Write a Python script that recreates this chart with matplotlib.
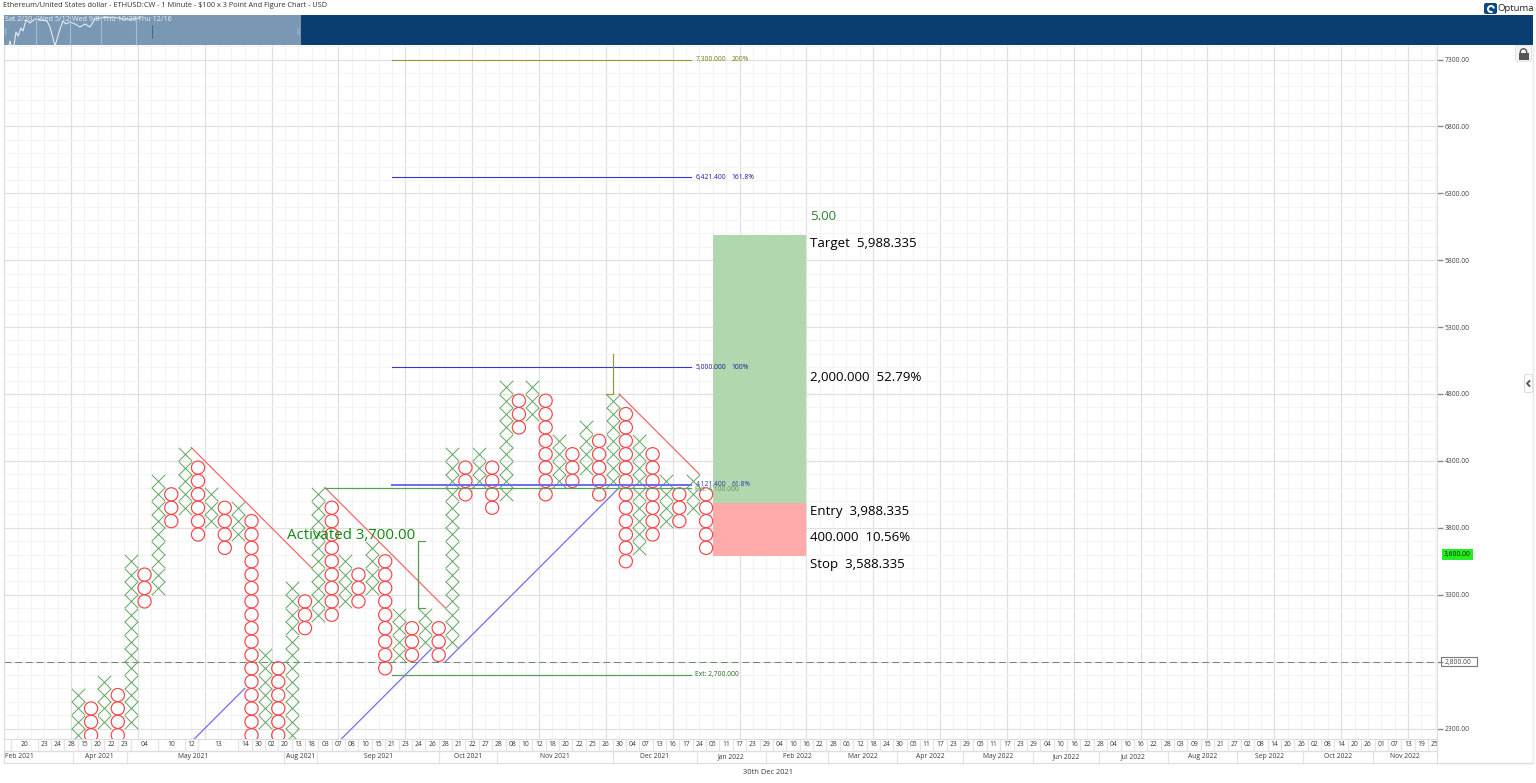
import matplotlib
matplotlib.use('Agg')
import matplotlib.pyplot as plt
from matplotlib.patches import Rectangle, FancyBboxPatch, Wedge, Circle

plt.rcParams['font.family'] = ['Open Sans', 'DejaVu Sans']

W, H = 1536, 783

# Point and figure columns, alternating X / O, first column is X. Edges of the box range.
col_low = [2200, 2200, 2300, 2200, 2300, 3200, 3300, 3800, 3900, 3700, 3800, 3600,
           3700, 2200, 2300, 2200, 2200, 3000, 3100, 3100, 3200, 3200, 3300, 2700,
           2800, 2800, 2900, 2800, 2900, 4000, 4100, 3900, 4000, 4500, 4600, 4000,
           4100, 4100, 4200, 4000, 4100, 3500, 3600, 3700, 3800, 3800, 3900, 3600]
col_high = [2600, 2500, 2700, 2600, 3600, 3500, 4200, 4100, 4400, 4300, 4100, 4000,
            4000, 3900, 2900, 2800, 3400, 3300, 4100, 4000, 3600, 3500, 3700, 3600,
            3200, 3100, 3200, 3100, 4400, 4300, 4400, 4300, 4900, 4800, 4900, 4800,
            4500, 4400, 4600, 4500, 4800, 4700, 4500, 4400, 4200, 4100, 4200, 4100]

price_ticks = [2300, 2800, 3300, 3800, 4300, 4800, 5300, 5800, 6300, 6800, 7300]
price_labels = ['2300.00', '2,800.00', '3300.00', '3800.00', '4300.00', '4800.00',
                '5300.00', '5800.00', '6300.00', '6800.00', '7300.00']
last_price = 3600
dashed_price = 2800

# fibonacci levels
fib_prices = [7300, 6421.4, 5000, 4121.4]
fib_values = ['7,300.000', '6,421.400', '5,000.000', '4,121.400']
fib_pcts = ['200%', '161.8%', '100%', '61.8%']
fib_colors = ['#9a9a30', '#3535d5', '#3535d5', '#6a6af0']
fib_text_colors = ['#7a7a10', '#1a1aa0', '#1a1aa0', '#2a3aa8']

# trend lines as (col, price) pairs
red_lines = [((8.5, 4400), (17.5, 3500)), ((18.5, 4100), (27.5, 3200)), ((40.5, 4800), (46.5, 4200))]
blue_lines = [((8.5, 2200), (12.5, 2600)), ((19.5, 2200), (26.5, 2900)), ((27.5, 2800), (40.5, 4100))]

entry = 3988.335
target = 5988.335
stop = 3588.335

# date strip
date_starts = [-5, -3, -2, -1, 0, 1, 2, 3, 4, 6, 8, 9, 12] + list(range(13, 102))
date_labels = ['20', '23', '24', '28', '15', '20', '22', '23', '04', '10', '12', '13', '14',
               '30', '02', '20', '13', '18', '03', '07', '08', '10', '15', '21', '23', '24',
               '26', '28', '21', '22', '27', '28', '08', '10', '12', '18', '20', '22', '25',
               '26', '30', '04', '07', '13', '16', '17', '24', '05', '11', '17', '23', '29',
               '04', '10', '16', '22', '28', '06', '12', '18', '24', '30', '05', '11', '17',
               '23', '29', '05', '11', '17', '23', '29', '04', '10', '16', '22', '28', '04',
               '10', '16', '22', '28', '03', '09', '15', '21', '27', '02', '08', '14', '20',
               '26', '02', '08', '14', '20', '26', '01', '07', '13', '19', '25']
month_edges = [-5.51, -0.37, 3.66, 15.45, 17.88, 27.05, 31.34, 40.06, 46.3, 51.46, 56.14,
               61.26, 66.24, 71.43, 76.37, 81.53, 86.68, 91.67, 96.86, 101.67]
month_labels = ['Feb 2021', 'Apr 2021', 'May 2021', 'Aug 2021', 'Sep 2021', 'Oct 2021',
                'Nov 2021', 'Dec 2021', 'Jan 2022', 'Feb 2022', 'Mar 2022', 'Apr 2022',
                'May 2022', 'Jun 2022', 'Jul 2022', 'Aug 2022', 'Sep 2022', 'Oct 2022',
                'Nov 2022']

# overview sparkline, read in header pixels
spark_x = [4, 7, 10, 13, 16, 18, 21, 23, 26, 30, 35, 40, 47, 50, 55, 60, 63, 66, 70, 75, 80, 85,
           90, 95, 100, 113, 123, 133, 140]
spark_y = [46, 52, 41, 52, 32, 36, 28, 31, 20, 23, 19, 20, 21, 27, 46, 29, 21, 24, 22, 24, 27, 24,
           27, 19, 18, 17, 19, 19, 18]
overview_ticks = [36, 70, 100.7, 136]
overview_text = ['Sat 2/20', 'Wed 5/12', 'Wed 9/8', 'Thu 10/28', 'Thu 12/16']
overview_text_x = [5, 38, 72.5, 103, 138]

GRID_MAJOR = '#e0e0e0'
GRID_MINOR = '#f4f4f4'
TICK_TEXT = '#3c4452'
DATE_TEXT = '#3a3a3a'
SMALL = 4.9


def axes_rect(left, top, right, bottom):
    return [left / W, 1 - bottom / H, (right - left) / W, (bottom - top) / H]


def col_of_px(x):
    return (x - 77.7) / 13.37


def price_of_px(y):
    return 2300 + (728.5 - y) * 5000 / 669


fig = plt.figure(figsize=(W / 100, H / 100), dpi=100, facecolor='white')

# chrome layer in pixel coordinates
chrome = fig.add_axes([0, 0, 1, 1], zorder=0)
chrome.set_xlim(0, W)
chrome.set_ylim(H, 0)
chrome.axis('off')

ax = fig.add_axes(axes_rect(4, 45, 1437, 739), zorder=1)
ax.set_xlim(col_of_px(4), col_of_px(1437))
ax.set_ylim(price_of_px(739), price_of_px(45))
ax.patch.set_alpha(0)

ax.set_xticks([-5.5 + 5 * i for i in range(22)])
ax.set_xticks([-5.5 + i for i in range(108)], minor=True)
ax.set_yticks(price_ticks, price_labels)
ax.set_yticks(range(2300, 7500, 100), minor=True)
ax.tick_params(axis='x', which='both', length=0, labelbottom=False)
ax.tick_params(axis='y', which='major', right=True, left=False, labelright=True, labelleft=False,
               length=4, width=1, color='#888888', labelsize=SMALL, labelcolor=TICK_TEXT, pad=1.5)
ax.tick_params(axis='y', which='minor', length=0)
ax.grid(True, which='major', color=GRID_MAJOR, lw=0.9)
ax.grid(True, which='minor', color=GRID_MINOR, lw=0.7)
ax.set_axisbelow(True)
for side, spine in ax.spines.items():
    spine.set_color('#dcdcdc')
    spine.set_visible(side in ('left', 'right'))

# box round the 2,800 tick label
chrome.add_patch(Rectangle((1441, 656.7), 35.7, 9, facecolor='white', edgecolor='#777777', lw=0.8))

# target / stop boxes
ax.add_patch(Rectangle((47.5, entry), 7, target - entry, facecolor='#b1d7ae', edgecolor='none', zorder=1))
ax.add_patch(Rectangle((47.5, stop), 7, entry - stop, facecolor='#ffabab', edgecolor='none', zorder=1))

# the X and O boxes
x_cols, x_prices, o_cols, o_prices = [], [], [], []
for i, (low, high) in enumerate(zip(col_low, col_high)):
    for p in range(low + 50, high, 100):
        if i % 2 == 0:
            x_cols.append(i)
            x_prices.append(p)
        else:
            o_cols.append(i)
            o_prices.append(p)
ax.scatter(x_cols, x_prices, marker='x', s=93, color='#66aa66', linewidths=0.75, zorder=3)
ax.scatter(o_cols, o_prices, marker='o', s=90, facecolors='none', edgecolors='#f7444a', linewidths=0.85, zorder=3)

for a, b in red_lines:
    ax.plot([a[0], b[0]], [a[1], b[1]], color='#f26a6a', lw=0.9, zorder=2)
for a, b in blue_lines:
    ax.plot([a[0], b[0]], [a[1], b[1]], color='#6f6ff0', lw=0.9, zorder=2)

ax.axhline(dashed_price, color='#6a8a6a', lw=0.7, ls=(0, (7, 4)), zorder=2)

# fib lines and their labels
for price, val, pct, c, tc in zip(fib_prices, fib_values, fib_pcts, fib_colors, fib_text_colors):
    ax.plot([23.5, 45.9], [price, price], color=c, lw=1.4 if price == 4121.4 else 0.8, zorder=4)
    ax.text(46.2, price, val, color=tc, fontsize=SMALL, va='center', ha='left', zorder=5)
    ax.text(48.9, price, pct, color=tc, fontsize=SMALL, va='center', ha='left', zorder=5)

ax.plot([18.5, 45.9], [4100, 4100], color='#55a055', lw=0.9, zorder=4)
ax.text(46.2, 4085, 'Ext: 4,100.000', color='#5f8f5f', fontsize=SMALL, va='center', zorder=5)
ax.plot([23.5, 45.9], [2700, 2700], color='#55a055', lw=0.9, zorder=4)
ax.text(46.2, 2700, 'Ext: 2,700.000', color='#1e6d1e', fontsize=SMALL, va='center', zorder=5)

# activation and breakout markers
ax.plot([26, 25.45, 25.45, 26], [3700, 3700, 3200, 3200], color='#55a055', lw=0.9, zorder=4)
ax.plot([39.5, 40, 40], [4800, 4800, 5100], color='#9a9a30', lw=0.9, zorder=4)
ax.text(15.65, 3746, 'Activated 3,700.00', color='#118811', fontsize=10.8, va='center', ha='left', zorder=5)

# trade labels
ax.text(54.75, 6125, '5.00', color='#2e7d2e', fontsize=9.5, va='center', zorder=5)
ax.text(54.75, 5928, 'Target  5,988.335', color='black', fontsize=9.5, va='center', zorder=5)
ax.text(54.75, 4927, '2,000.000  52.79%', color='black', fontsize=9.5, va='center', zorder=5)
ax.text(54.75, 3925, 'Entry  3,988.335', color='black', fontsize=9.5, va='center', zorder=5)
ax.text(54.75, 3724, '400.000  10.56%', color='black', fontsize=9.5, va='center', zorder=5)
ax.text(54.75, 3529, 'Stop  3,588.335', color='black', fontsize=9.5, va='center', zorder=5)

ax.text(1 + 7 / 1433, last_price, '3,600.00', transform=ax.get_yaxis_transform(), fontsize=SMALL,
        color='#102010', va='center', ha='left', clip_on=False,
        bbox=dict(facecolor='#22ee22', edgecolor='none', pad=1.6), zorder=6)

# date strip under the chart, same x scale
band = fig.add_axes(axes_rect(4, 739, 1437, 763), zorder=1)
band.set_xlim(ax.get_xlim())
band.set_ylim(0, 2)
band.set_xticks([])
band.set_yticks([])
for side, spine in band.spines.items():
    spine.set_color('#dcdcdc')
band.axhline(1, color='#dedede', lw=1)
band.vlines(date_starts, 1, 2, color='#e4e4e4', lw=0.9)
band.vlines(month_edges[1:-1], 0, 1, color='#e4e4e4', lw=0.9)
ends = date_starts[1:] + [102]
for s, e, t in zip(date_starts, ends, date_labels):
    band.text((s + e) / 2, 1.5, t, ha='center', va='center', fontsize=SMALL, color=DATE_TEXT, clip_on=True)
for i, t in enumerate(month_labels):
    pos = (month_edges[i] + month_edges[i + 1]) / 2
    ha = 'center'
    if t == 'Feb 2021':
        pos, ha = month_edges[0] + 0.1, 'left'
    if t == 'May 2021':
        pos = col_of_px(192.7)
    band.text(pos, 0.55, t, ha=ha, va='center', fontsize=SMALL, color=DATE_TEXT)

# pixel furniture: title, overview, logo, buttons
chrome.text(3, 5.5, 'Ethereum/United States dollar - ETHUSD:CW - 1 Minute - $100 x 3 Point And Figure Chart - USD',
            fontsize=5.3, color='#333333', va='center', ha='left')
chrome.text(768, 772, '30th Dec 2021', fontsize=5.4, color=DATE_TEXT, va='center', ha='center')
chrome.plot([1437, 1533], [763, 763], color='#dcdcdc', lw=1)
chrome.plot([1533, 1533], [45, 763], color='#e8e8e8', lw=1)

chrome.add_patch(Rectangle((4, 15), 1529, 30, facecolor='#0a3d70', edgecolor='none'))
chrome.add_patch(Rectangle((4, 15), 297, 30, facecolor='#7a98b3', edgecolor='none'))
chrome.plot(spark_x, spark_y, color='white', lw=0.7, alpha=0.9)
chrome.vlines(overview_ticks, 15, 45, color='#a9bccd', lw=0.8)
chrome.vlines([152], 25, 38, color='#47688a', lw=0.8)
for t, x in zip(overview_text, overview_text_x):
    chrome.text(x, 19.5, t, fontsize=5.1, color='#eef3f7', va='center', ha='left')
chrome.add_patch(Rectangle((4, 28), 3, 7, facecolor='#8da6bd', edgecolor='none'))
chrome.add_patch(Rectangle((297, 28), 3, 7, facecolor='#8da6bd', edgecolor='none'))

# Optuma logo
chrome.add_patch(FancyBboxPatch((1484, 3), 13, 11, boxstyle='round,pad=0,rounding_size=2',
                                facecolor='#0a4a80', edgecolor='none'))
chrome.add_patch(Wedge((1491, 9), 4, 60, 350, width=2, facecolor='white', edgecolor='none'))
chrome.text(1497.5, 8.5, 'Optuma', fontsize=6.8, color='#222222', va='center', ha='left')

# lock button
chrome.add_patch(FancyBboxPatch((1515.5, 45.5), 16, 16, boxstyle='round,pad=0,rounding_size=2',
                                facecolor='#f4f4f4', edgecolor='#e4e4e4', lw=0.8))
chrome.add_patch(Rectangle((1518.5, 52.5), 10, 7, facecolor='#555555', edgecolor='none'))
chrome.add_patch(Circle((1523.5, 52), 3.2, facecolor='none', edgecolor='#555555', lw=1))

# side panel handle
chrome.add_patch(FancyBboxPatch((1524.5, 374.5), 8, 18, boxstyle='round,pad=0,rounding_size=1.5',
                                facecolor='white', edgecolor='#dddddd', lw=0.8))
chrome.plot([1529.5, 1527, 1529.5], [381, 383.5, 386], color='#555555', lw=1.3)

fig.savefig('out.png', dpi=100)
